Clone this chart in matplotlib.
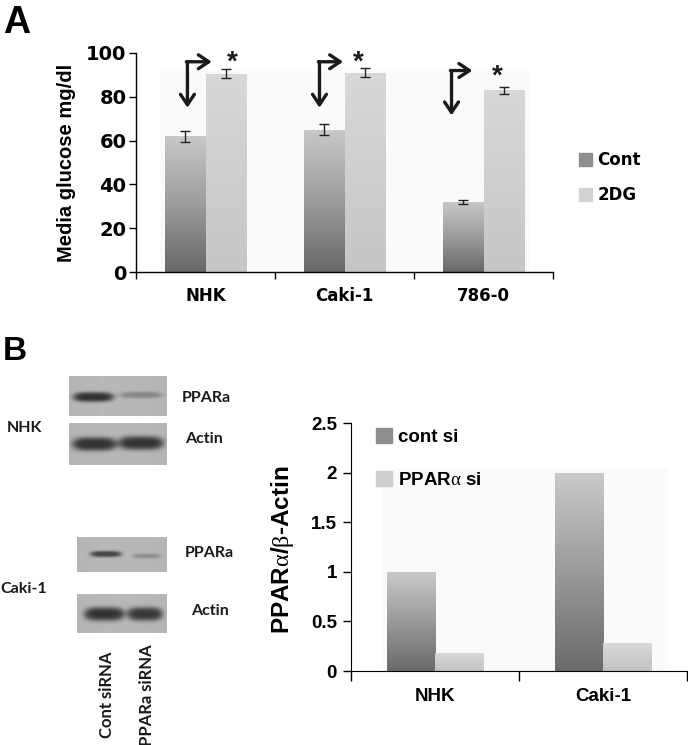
import matplotlib
matplotlib.use('Agg')
import matplotlib.pyplot as plt
import numpy as np
from matplotlib.colors import LinearSegmentedColormap
from matplotlib.patches import Patch, Rectangle

plt.rcParams['mathtext.fontset'] = 'custom'
plt.rcParams['mathtext.rm'] = 'Liberation Serif'
plt.rcParams['mathtext.it'] = 'Liberation Serif:italic'
plt.rcParams['mathtext.bf'] = 'Liberation Serif:bold'

# ---- panel A: media glucose ----
cells_a = ['NHK', 'Caki-1', '786-0']
series_a = ['Cont', '2DG']
glucose_cont = [62, 65, 32]
glucose_2dg = [90.5, 91, 83]
err_cont = [2.5, 2.5, 1.0]
err_2dg = [2.0, 2.0, 1.5]
yticks_a = [0, 20, 40, 60, 80, 100]

# ---- panel B: PPARa / b-actin ----
cells_b = ['NHK', 'Caki-1']
series_b = ['cont si', r'PPAR$\mathrm{\alpha}$ si']
ratio_cont = [1.0, 2.0]
ratio_ppara = [0.18, 0.28]
yticks_b = [0, 0.5, 1, 1.5, 2, 2.5]

# western blot band strength (cont siRNA, PPARa siRNA)
lanes = ['Cont siRNA', 'PPARa siRNA']
band_nhk_ppar = [1.0, 0.35]
band_nhk_actin = [1.0, 1.0]
band_caki_ppar = [0.85, 0.3]
band_caki_actin = [1.0, 0.95]

SANS = 'Liberation Sans'
WIDE = 'DejaVu Sans'
BLOT = 'Lato'

cmap_dark = LinearSegmentedColormap.from_list('dk', ['#686868', '#9c9c9c', '#c8c8c8'])
cmap_light = LinearSegmentedColormap.from_list('lt', ['#c6c6c6', '#d8d8d8'])


def grad_fill(ax, bars, cmap):
    for b in bars:
        x, y = b.get_xy()
        w, h = b.get_width(), b.get_height()
        im = ax.imshow(np.linspace(0, 1, 256).reshape(-1, 1), cmap=cmap,
                       origin='lower', extent=[x, x + w, y, y + h],
                       aspect='auto', zorder=2)
        im.set_clip_path(b)
        b.set_facecolor('none')


def blot(ax, box, bands, amps):
    x0, x1, y0, y1 = box
    X, Y = np.meshgrid(np.linspace(x0, x1, 300), np.linspace(y0, y1, 120))
    img = np.full(X.shape, 0.72)
    img -= 0.04 * ((X - (x0 + x1) / 2) / (x1 - x0)) ** 2
    for (bx0, bx1, yc, hh), a in zip(bands, amps):
        xc, hw = (bx0 + bx1) / 2, (bx1 - bx0) / 2
        d = np.abs((X - xc) / hw) ** 4 + ((Y - yc) / hh) ** 2
        img -= 0.52 * a * np.exp(-d ** 1.6)
    ax.imshow(img, cmap='gray', vmin=0, vmax=1, origin='upper',
              extent=[x0, x1, y1, y0], aspect='auto', interpolation='bilinear')


fig = plt.figure(figsize=(6.88, 7.45), dpi=100)

# ---------- blot (figure pixel coordinates) ----------
axb = fig.add_axes([0, 0, 1, 1])
blot(axb, (69, 167, 376, 416), [(73, 114, 397, 5), (119, 163, 395, 3.5)], band_nhk_ppar)
blot(axb, (69, 167, 423, 465), [(72, 117, 444, 7), (118, 164, 443, 7)], band_nhk_actin)
blot(axb, (77, 167, 537, 572), [(90, 122, 554, 3.2), (132, 161, 556, 2.5)], band_caki_ppar)
blot(axb, (77, 167, 594, 633), [(84, 125, 614, 7), (127, 163, 614, 7)], band_caki_actin)
axb.set_xlim(0, 688)
axb.set_ylim(745, 0)
axb.axis('off')
tk = dict(family=BLOT, fontweight='bold', fontsize=11.5, va='center', color='#1a1a1a')
axb.text(182, 398, 'PPARa', **tk)
axb.text(185, 439, 'Actin', **tk)
axb.text(7, 428, 'NHK', **tk)
axb.text(185, 553, 'PPARa', **tk)
axb.text(0, 589, 'Caki-1', **tk)
axb.text(191, 611, 'Actin', **tk)
axb.text(107, 738, lanes[0], family=BLOT, fontweight='bold', fontsize=12,
         rotation=90, ha='center', va='bottom', color='#1a1a1a')
axb.text(147, 644, lanes[1], family=BLOT, fontweight='bold', fontsize=12,
         rotation=90, ha='center', va='top', color='#1a1a1a')

fig.text(3 / 688, 1 - 33 / 745, 'A', family=SANS, fontweight='bold', fontsize=27)
fig.text(3 / 688, 1 - 360 / 745, 'B', family=SANS, fontweight='bold', fontsize=24)

# ---------- panel A ----------
ax = fig.add_axes([136 / 688, (745 - 272) / 745, 417 / 688, 219 / 745])
x = np.arange(len(cells_a))
w = 0.288
ax.add_patch(Rectangle((-0.33, 0), 2.66, 92, color='#fafafa', zorder=0, lw=0))
b1 = ax.bar(x - w / 2, glucose_cont, w, zorder=2, lw=0)
b2 = ax.bar(x + w / 2, glucose_2dg, w, zorder=2, lw=0)
grad_fill(ax, b1, cmap_dark)
grad_fill(ax, b2, cmap_light)
ax.errorbar(x - w / 2, glucose_cont, yerr=err_cont, fmt='none', ecolor='#222222',
            elinewidth=1, capsize=3.5, capthick=1, zorder=3)
ax.errorbar(x + w / 2, glucose_2dg, yerr=err_2dg, fmt='none', ecolor='#222222',
            elinewidth=1, capsize=3.5, capthick=1, zorder=3)

arrow_x = [-0.13, 0.82, 1.77]
arrow_tip = [0.045, 0.99, 1.92]
arrow_top = [96, 96, 92]
arrow_bot = [75, 75, 71.5]
star_x = [0.19, 1.10, 2.10]
star_y = [92.5, 92.5, 86]
ap = dict(arrowstyle='->,head_length=0.75,head_width=0.5', lw=2.4, color='#1a1a1a',
          shrinkA=0, shrinkB=0)
for i in range(len(cells_a)):
    ax.annotate('', xy=(arrow_x[i], arrow_bot[i]), xytext=(arrow_x[i], arrow_top[i]),
                arrowprops=ap, zorder=4)
    ax.annotate('', xy=(arrow_tip[i], arrow_top[i]), xytext=(arrow_x[i] - 0.008, arrow_top[i]),
                arrowprops=ap, zorder=4)
    ax.text(star_x[i], star_y[i], '*', family=SANS, fontweight='bold', fontsize=20,
            ha='center', va='baseline', color='#1a1a1a')

ax.set_xlim(-0.5, 2.5)
ax.set_ylim(0, 100)
ax.set_yticks(yticks_a)
ax.set_xticks(x)
ax.set_xticklabels(cells_a)
ax.set_xticks([-0.5, 0.5, 1.5, 2.5], minor=True)
ax.tick_params(axis='x', which='major', length=0, pad=11)
ax.tick_params(axis='x', which='minor', length=5, width=1)
ax.tick_params(axis='y', length=5, width=1, pad=2)
for s in ['top', 'right']:
    ax.spines[s].set_visible(False)
for s in ['left', 'bottom']:
    ax.spines[s].set_linewidth(1)
for t in ax.get_xticklabels():
    t.set_fontproperties({'family': WIDE, 'weight': 'bold', 'size': 12})
for t in ax.get_yticklabels():
    t.set_fontproperties({'family': WIDE, 'weight': 'bold', 'size': 14})
ax.set_ylabel('Media glucose mg/dl', family=SANS, fontweight='bold', fontsize=14.5)
ax.yaxis.set_label_coords(-0.145, 0.5)
ax.legend([Patch(color='#8e8e8e'), Patch(color='#d2d2d2')], series_a,
          loc='upper left', bbox_to_anchor=(579 / 688, 1 - 151 / 745),
          bbox_transform=fig.transFigure, frameon=False, borderpad=0, borderaxespad=0,
          handlelength=0.8, handleheight=0.8, handletextpad=0.3, labelspacing=1.05,
          prop={'family': WIDE, 'weight': 'bold', 'size': 12})

# ---------- panel B chart ----------
bx = fig.add_axes([351 / 688, (745 - 671) / 745, 336 / 688, 248 / 745])
xb = np.arange(len(cells_b))
wb = 0.286
bx.add_patch(Rectangle((-0.315, 0), 1.7, 2.05, color='#fafafa', zorder=0, lw=0))
c1 = bx.bar(xb - wb / 2, ratio_cont, wb, zorder=2, lw=0)
c2 = bx.bar(xb + wb / 2, ratio_ppara, wb, zorder=2, lw=0)
grad_fill(bx, c1, LinearSegmentedColormap.from_list('dkb', ['#6a6a6a', '#cacaca']))
grad_fill(bx, c2, LinearSegmentedColormap.from_list('ltb', ['#c2c2c2', '#d8d8d8']))
bx.set_xlim(-0.5, 1.5)
bx.set_ylim(0, 2.5)
bx.set_yticks(yticks_b)
bx.set_yticklabels(['{:g}'.format(v) for v in yticks_b])
bx.set_xticks(xb)
bx.set_xticklabels(cells_b)
bx.set_xticks([-0.5, 0.5, 1.5], minor=True)
bx.tick_params(axis='x', which='major', length=0, pad=12)
bx.tick_params(axis='x', which='minor', length=7, width=1)
bx.tick_params(axis='y', length=6, width=1, pad=4)
for s in ['top', 'right']:
    bx.spines[s].set_visible(False)
for t in bx.get_xticklabels() + bx.get_yticklabels():
    t.set_fontproperties({'family': SANS, 'weight': 'bold', 'size': 13.5})
bx.set_ylabel(r'PPAR$\mathrm{\alpha}$/$\mathrm{\beta}$-Actin', family=SANS,
              fontweight='bold', fontsize=17.5)
bx.yaxis.set_label_coords(-0.165, 0.49)
bx.legend([Patch(color='#8e8e8e'), Patch(color='#cfcfcf')], series_b,
          loc='upper left', bbox_to_anchor=(376 / 688, 1 - 428 / 745),
          bbox_transform=fig.transFigure, frameon=False, borderpad=0, borderaxespad=0,
          handlelength=0.85, handleheight=0.85, handletextpad=0.3, labelspacing=1.35,
          prop={'family': SANS, 'weight': 'bold', 'size': 13.5})

fig.savefig('out.png', dpi=100)
